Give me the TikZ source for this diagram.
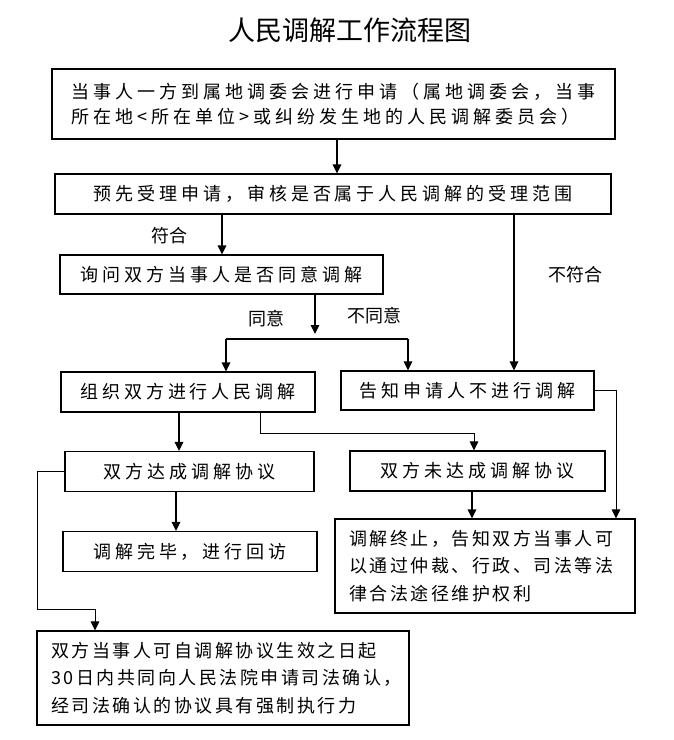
\documentclass[tikz,border=0pt]{standalone}
\usepackage{fontspec}
\usetikzlibrary{arrows.meta}
\newfontfamily\cjk{Noto Sans CJK SC}
\newfontfamily\cjkA[LetterSpace=22]{Noto Sans CJK SC}
\newfontfamily\cjkB[LetterSpace=14]{Noto Sans CJK SC}
\tikzset{
  box/.style={draw, line width=1.1pt, inner sep=0pt, font=\cjkA\fontsize{18}{25}\selectfont},
  boxB/.style={draw, line width=1.1pt, inner ysep=0pt, inner xsep=14pt, align=left, font=\cjkB\fontsize{18}{27.5}\selectfont},
  lbl/.style={inner sep=0pt, font=\cjk\fontsize{18}{20}\selectfont},
  ttl/.style={inner sep=0pt, font=\cjk\fontsize{27}{30}\selectfont},
  arr/.style={line width=1.5pt, -{Triangle[length=9pt,width=8.5pt]}},
  arrthin/.style={line width=1pt, -{Triangle[length=9pt,width=8.5pt]}},
  thinline/.style={line width=1.2pt}
}
\begin{document}
\begin{tikzpicture}[x=1pt,y=-1pt]
\useasboundingbox (0,0) rectangle (674,740);
\node[ttl] (t) at (350,30) {人民调解工作流程图};
\node[box, minimum width=563pt, minimum height=70pt, align=left] (b1) at (333.5,104)
  {当事人一方到属地调委会进行申请（属地调委会，当事\\所在地<所在单位>或纠纷发生地的人民调解委员会）};
\node[box, minimum width=556pt, minimum height=40pt] (b2) at (333,194) {预先受理申请，审核是否属于人民调解的受理范围};
\node[box, minimum width=323pt, minimum height=39pt] (b3) at (221.5,274.5) {询问双方当事人是否同意调解};
\node[box, minimum width=254pt, minimum height=40pt] (b4) at (188,392) {组织双方进行人民调解};
\node[box, minimum width=253pt, minimum height=39pt] (b5) at (467.5,390.5) {告知申请人不进行调解};
\node[box, minimum width=249pt, minimum height=40pt] (b6) at (189.5,471.5) {双方达成调解协议};
\node[box, minimum width=255pt, minimum height=40pt] (b7) at (477.5,471) {双方未达成调解协议};
\node[box, minimum width=254pt, minimum height=40pt] (b8) at (190,551.5) {调解完毕，进行回访};
\node[boxB, text width=272pt, minimum height=94pt] (b9) at (485,566)
  {调解终止，告知双方当事人可\\以通过仲裁、行政、司法等法\\律合法途径维护权利};
\node[boxB, text width=344pt, minimum height=94pt] (b10) at (223,678)
  {双方当事人可自调解协议生效之日起\\30日内共同向人民法院申请司法确认，\\经司法确认的协议具有强制执行力};
\node[lbl] (l1) at (169,236) {符合};
\node[lbl] (l2) at (575,275) {不符合};
\node[lbl] (l3) at (266,319) {同意};
\node[lbl] (l4) at (374,316) {不同意};
\coordinate (x1) at (337,0);
\coordinate (x2) at (222,0);
\coordinate (x3) at (514,0);
\coordinate (x4) at (315,0);
\coordinate (j0) at (315,334);
\coordinate (j1) at (226,339);
\coordinate (j2) at (408,339);
\coordinate (x5) at (616,0);
\coordinate (x6) at (179,0);
\coordinate (x7) at (260,0);
\coordinate (k8) at (474,433);
\coordinate (x9) at (176,0);
\coordinate (x10) at (472,0);
\coordinate (m1) at (37,609);
\coordinate (x11) at (95,0);
\draw[arr] (b1.south -| x1) -- (b2.north -| x1);
\draw[arr] (b2.south -| x2) -- (b3.north -| x2);
\draw[arr] (b2.south -| x3) -- (b5.north -| x3);
\draw[arr] (b3.south -| x4) -- (j0);
\draw[thinline] (j1) -- (j2);
\draw[arr] (j1) -- (b4.north -| j1);
\draw[arr] (j2) -- (b5.north -| j2);
\draw[arrthin] (b5.east) -| (b9.north -| x5);
\draw[arr] (b4.south -| x6) -- (b6.north -| x6);
\draw[arrthin] (b4.south -| x7) |- (k8) -- (b7.north -| k8);
\draw[arr] (b6.south -| x9) -- (b8.north -| x9);
\draw[arr] (b7.south -| x10) -- (b9.north -| x10);
\draw[arrthin] (b6.west) -| (m1) -| (b10.north -| x11);
\end{tikzpicture}
\end{document}
